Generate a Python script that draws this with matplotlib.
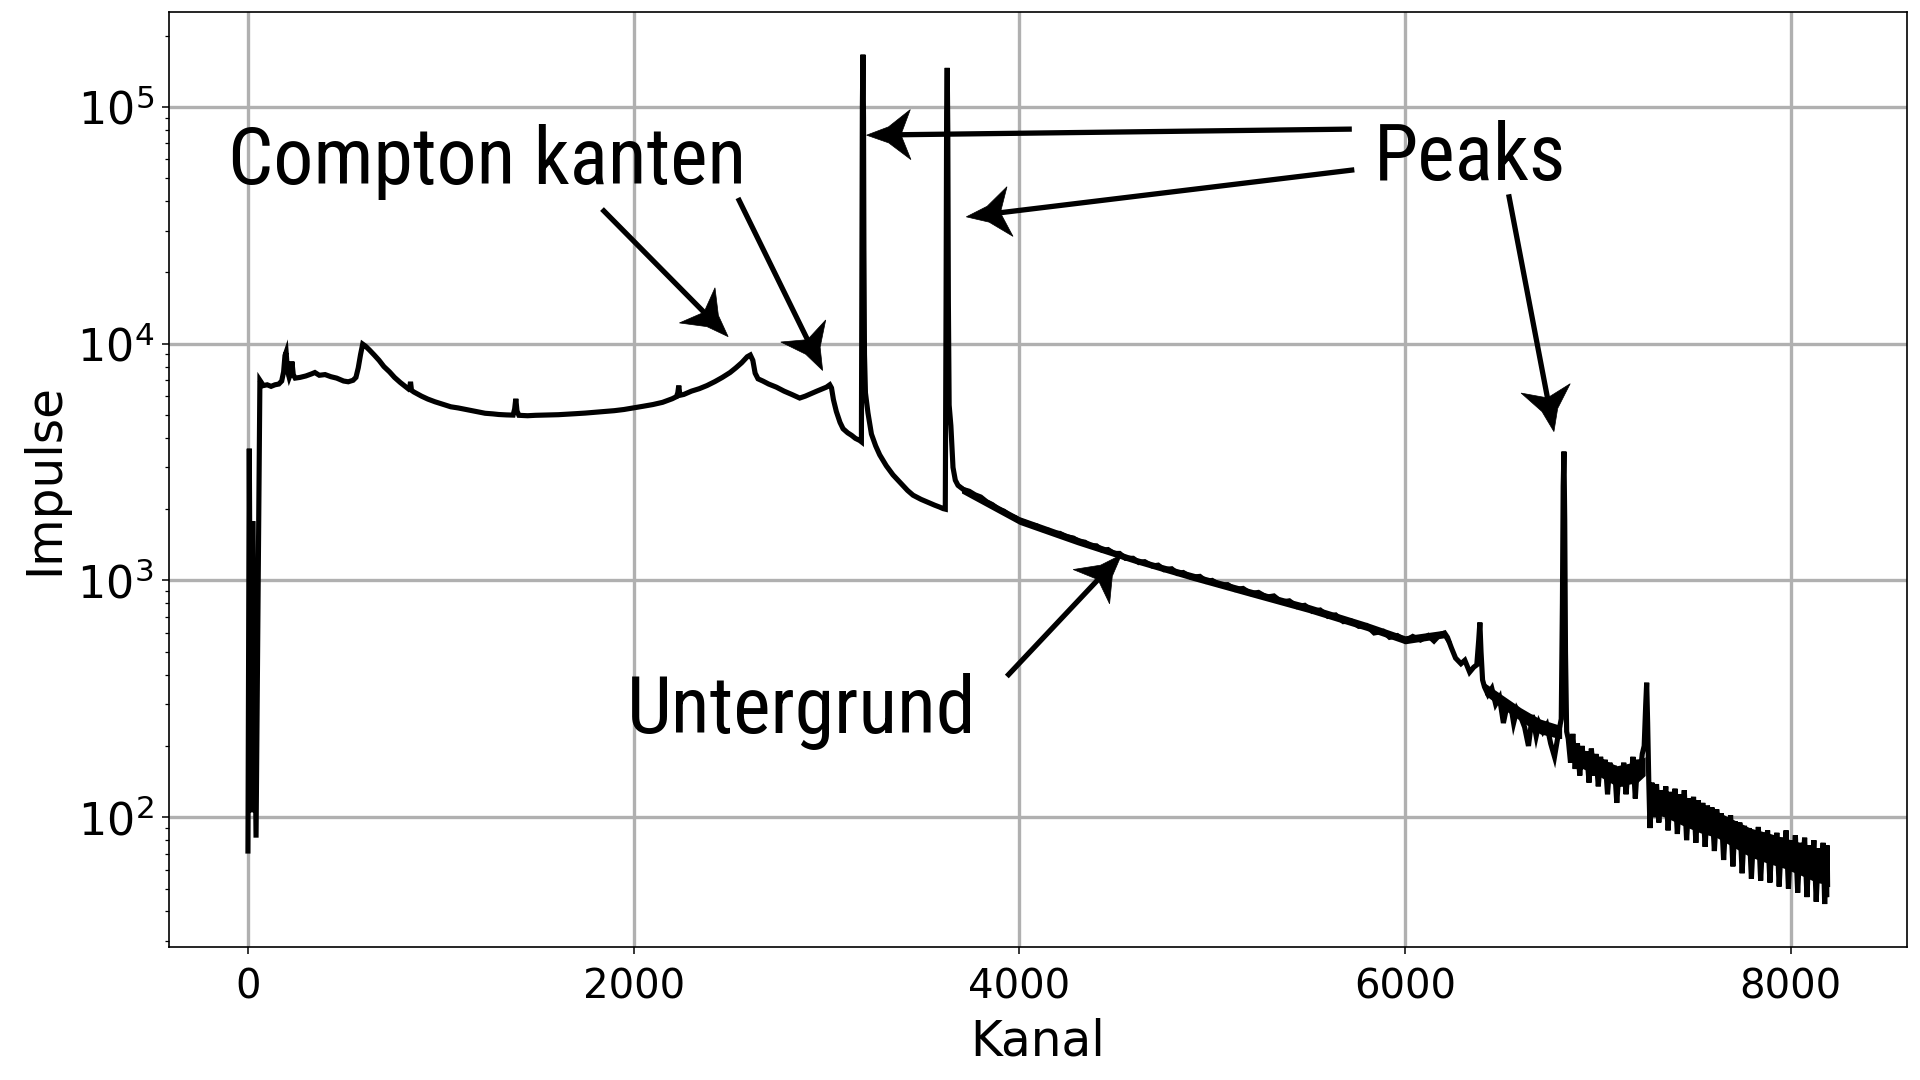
import matplotlib
matplotlib.use("Agg")
import numpy as np
import matplotlib.pyplot as plt
from matplotlib import font_manager as fm
from matplotlib.font_manager import FontProperties
from matplotlib.patches import Polygon

# ---------------- data ----------------
kanal_start = [0, 7, 16, 25, 42, 62, 80, 100, 120, 140, 160, 175, 185, 192, 198, 205, 214, 222, 228,
               235, 245, 270, 300, 330, 347, 370, 400, 430, 460, 496, 520, 545, 560, 572, 584, 595]
impulse_start = [72, 3600, 105, 1780, 82, 7000, 6650, 6700, 6600, 6700, 6750, 6950, 7600, 8900, 9200, 7700, 7200, 7500, 8400,
                 7400, 7150, 7200, 7300, 7450, 7550, 7350, 7400, 7250, 7150, 6950, 6900, 7000, 7200, 7900, 9000, 9950]

kanal_compton = [610, 630, 655, 680, 705, 734, 760, 790, 815, 833, 839, 843, 848, 860, 900, 933, 970, 1000, 1052, 1090,
                 1131, 1180, 1230, 1270, 1300, 1340, 1375, 1383, 1389, 1395, 1405, 1450, 1490, 1528, 1570, 1610, 1650,
                 1700, 1750, 1800, 1850, 1900, 1950, 2004, 2050, 2100, 2150, 2200, 2222, 2229, 2234, 2240, 2260, 2300,
                 2340, 2380, 2421, 2460, 2500, 2530, 2560, 2589, 2605, 2618, 2630, 2645, 2670, 2700, 2740, 2780, 2820,
                 2861, 2890, 2920, 2950, 2980, 3000, 3017, 3026, 3036, 3051, 3070, 3086, 3110, 3130, 3150, 3172, 3181]
impulse_compton = [9750, 9400, 8950, 8500, 8000, 7600, 7200, 6850, 6600, 6430, 6500, 6900, 6350, 6250, 6000, 5830, 5680, 5580, 5410, 5350,
                   5270, 5180, 5080, 5050, 5020, 5000, 4990, 5300, 5850, 5200, 4980, 4960, 4980, 4990, 5000, 5010, 5030,
                   5060, 5090, 5130, 5170, 5210, 5270, 5360, 5440, 5530, 5650, 5850, 5970, 6200, 6650, 6050, 6100, 6300,
                   6450, 6650, 6910, 7200, 7550, 7900, 8300, 8800, 8950, 8500, 7500, 7100, 6950, 6750, 6550, 6300, 6100,
                   5890, 6000, 6150, 6300, 6450, 6550, 6700, 6500, 5800, 5170, 4650, 4370, 4200, 4100, 3980, 3900, 3850]

kanal_peaks = [3184, 3186, 3189, 3192, 3194, 3197, 3202, 3215, 3233, 3255, 3276, 3310, 3345, 3380, 3420, 3449, 3490,
               3530, 3560, 3587, 3605, 3616, 3620, 3623, 3626, 3629, 3632, 3636, 3645, 3656, 3668, 3682, 3710]
impulse_peaks = [25000, 100000, 166000, 90000, 25000, 9000, 6200, 5100, 4150, 3700, 3390, 3050, 2790, 2600, 2400, 2290, 2200,
                 2130, 2080, 2040, 2010, 2000, 15000, 95000, 146000, 80000, 15000, 5500, 4500, 3000, 2650, 2520, 2420]

kanal_abfall = [3740, 3770, 3800, 3830, 3860, 3890, 3920, 3950, 3980, 4002, 4030, 4060, 4090, 4120, 4150, 4180, 4210, 4244,
                4280, 4310, 4340, 4370, 4400, 4430, 4460, 4490, 4520, 4550, 4590, 4620, 4650, 4690, 4720, 4750, 4790, 4820,
                4850, 4890, 4936, 4970, 5000, 5040, 5080, 5120, 5160, 5200, 5240, 5282, 5320, 5360, 5400, 5440, 5480, 5520,
                5560, 5600, 5640, 5680, 5720, 5760, 5800, 5840, 5887, 5920, 5960, 6000, 6040, 6080, 6120, 6150, 6180, 6205,
                6220, 6240, 6262, 6290, 6310, 6335, 6356, 6372, 6382, 6388, 6394, 6402, 6412, 6430, 6450, 6470, 6490, 6510,
                6530, 6550, 6563, 6580, 6600, 6620, 6640, 6660, 6680, 6695, 6715, 6735, 6755, 6775, 6795, 6810, 6816, 6820,
                6824, 6828, 6832, 6838]
impulse_abfall = [2380, 2300, 2250, 2150, 2090, 2000, 1960, 1880, 1840, 1790, 1760, 1720, 1700, 1640, 1630, 1580, 1580, 1530,
                  1510, 1460, 1450, 1400, 1400, 1340, 1350, 1300, 1300, 1240, 1240, 1190, 1200, 1150, 1160, 1110, 1120, 1070,
                  1080, 1030, 1040, 990, 1000, 955, 960, 915, 925, 880, 890, 850, 860, 810, 820, 775, 785, 740,
                  750, 705, 715, 670, 675, 640, 645, 600, 610, 575, 585, 555, 580, 560, 585, 555, 590, 600,
                  575, 520, 470, 445, 460, 410, 430, 440, 560, 664, 500, 380, 355, 330, 350, 300, 320, 250,
                  300, 290, 250, 285, 265, 240, 200, 270, 220, 250, 230, 245, 205, 180, 225, 260, 800,
                  2500, 3500, 1800, 500, 230]

kanal_schwanz = [6846, 6858, 6870, 6882, 6894, 6906, 6918, 6930, 6942, 6954, 6966, 6978, 6990, 7002, 7014, 7026, 7038, 7050,
                 7062, 7074, 7086, 7098, 7110, 7122, 7134, 7146, 7158, 7170, 7182, 7194, 7206, 7218, 7230, 7240, 7248, 7253,
                 7258, 7264, 7270, 7280, 7292, 7304, 7316, 7328, 7340, 7352, 7364, 7376, 7388, 7400, 7412, 7424, 7436, 7448,
                 7460, 7472, 7484, 7496, 7508, 7520, 7532, 7544, 7556, 7568, 7580, 7592, 7604, 7616, 7628, 7640, 7652, 7664,
                 7676, 7688, 7700, 7712, 7724, 7736, 7748, 7760, 7772, 7784, 7796, 7808, 7820, 7832, 7844, 7856, 7868, 7880,
                 7892, 7904, 7916, 7928, 7940, 7952, 7964, 7976, 7988, 8000, 8012, 8024, 8036, 8048, 8060, 8072, 8084, 8096,
                 8108, 8120, 8132, 8144, 8156, 8168, 8176, 8182, 8186, 8189, 8191]
impulse_schwanz = [215, 170, 225, 160, 205, 150, 200, 160, 190, 140, 195, 150, 185, 135, 180, 150, 175, 125,
                   170, 140, 165, 115, 160, 135, 170, 125, 165, 140, 180, 120, 175, 150, 185, 200, 300, 370,
                   250, 140, 90, 140, 100, 138, 95, 130, 105, 135, 88, 128, 100, 132, 85, 125, 98, 130,
                   80, 120, 95, 122, 78, 118, 92, 115, 75, 112, 90, 110, 72, 108, 85, 104, 66, 100,
                   80, 102, 62, 96, 75, 95, 58, 92, 70, 90, 55, 88, 68, 91, 54, 86, 66, 88,
                   53, 84, 64, 86, 51, 82, 62, 88, 50, 80, 60, 84, 48, 78, 58, 82, 46, 76,
                   56, 80, 44, 74, 54, 78, 43, 72, 46, 76, 52]

# dense noise band (core of the noisy trace)
band_m_kanal = [3700, 4000, 4300, 4600, 4900, 5200, 5500, 5800, 6000, 6200, 6240]
band_m_low = [2340, 1725, 1415, 1180, 1000, 855, 732, 615, 540, 572, 508]
band_m_high = [2520, 1860, 1525, 1255, 1075, 920, 792, 665, 584, 616, 552]
band_a_kanal = [6412, 6500, 6600, 6700, 6800, 6812]
band_a_low = [330, 290, 255, 225, 215, 215]
band_a_high = [370, 330, 290, 260, 245, 245]
band_b_kanal = [6846, 6925, 7000, 7098, 7205, 7245]
band_b_low = [185, 160, 150, 135, 140, 150]
band_b_high = [215, 190, 180, 165, 172, 180]
band_c_kanal = [7266, 7350, 7444, 7530, 7617, 7700, 7790, 7880, 7963, 8050, 8136, 8191]
band_c_low = [105, 100, 92, 86, 82, 75, 68, 64, 61, 57, 53, 52]
band_c_high = [135, 128, 122, 112, 106, 98, 90, 86, 82, 78, 74, 72]

x_ticks = [0, 2000, 4000, 6000, 8000]
x_label = "Kanal"
y_label = "Impulse"

kanal = kanal_start + kanal_compton + kanal_peaks + kanal_abfall + kanal_schwanz
impulse = impulse_start + impulse_compton + impulse_peaks + impulse_abfall + impulse_schwanz

# ---------------- annotation font (condensed if available) ----------------
def pick_condensed():
    prefs = ["Open Sans Condensed", "Noto Sans Condensed", "Roboto Condensed",
             "Liberation Sans Narrow", "DejaVu Sans Condensed"]
    fl = fm.fontManager.ttflist
    def ok(f):
        return f.style == "normal" and str(f.weight) in ("400", "normal", "regular", "book")
    for p in prefs:
        for f in fl:
            if f.name == p and ok(f):
                return FontProperties(fname=f.fname)
    for f in fl:
        if ok(f) and (f.stretch in ("condensed", "semi-condensed") or "Condensed" in f.name or "Narrow" in f.name):
            return FontProperties(fname=f.fname)
    return FontProperties(family="Liberation Sans")

ann_fp = pick_condensed()

# ---------------- figure ----------------
fig = plt.figure(figsize=(19.2, 10.8), dpi=100)
ax = fig.add_axes([0.088, 0.1236, 0.905, 0.8651])

ax.plot(kanal, impulse, color="black", lw=3.7, zorder=3, solid_joinstyle="miter")
for bk, bl, bh in [(band_m_kanal, band_m_low, band_m_high),
                   (band_a_kanal, band_a_low, band_a_high),
                   (band_b_kanal, band_b_low, band_b_high),
                   (band_c_kanal, band_c_low, band_c_high)]:
    ax.fill_between(bk, bl, bh, color="black", lw=0, zorder=3)
ax.set_yscale("log")
ax.set_xticks(x_ticks)
ax.grid(True, which="major", color="#b0b0b0", lw=2.4)
ax.set_axisbelow(True)
for s in ax.spines.values():
    s.set_linewidth(1.2)
ax.tick_params(axis="x", which="major", labelsize=29, length=5, width=1.1, pad=10)
ax.tick_params(axis="y", which="major", labelsize=32, length=5, width=1.1, pad=6)
ax.tick_params(axis="y", which="minor", length=3, width=0.9)
ax.set_xlabel(x_label, fontsize=35, labelpad=7)
ax.set_ylabel(y_label, fontsize=35, labelpad=6)

# freeze limits so annotation geometry can be computed in pixels
ax.set_xlim(ax.get_xlim())
ax.set_ylim(ax.get_ylim())

def ann_text(x, y, s):
    fp = ann_fp.copy()
    fp.set_size(57.5)
    ax.text(x, y, s, fontproperties=fp, ha="left", va="baseline", zorder=5)

def arrow(tail, tip, L=44.0, W=50.0):
    p0 = ax.transData.transform(tail)
    p1 = ax.transData.transform(tip)
    d = p1 - p0
    u = d / np.hypot(*d)
    n = np.array([-u[1], u[0]])
    head = [p1,
            p1 - 0.5 * L * u + 0.16 * W * n,
            p1 - L * u + 0.5 * W * n,
            p1 - 0.78 * L * u,
            p1 - L * u - 0.5 * W * n,
            p1 - 0.5 * L * u - 0.16 * W * n]
    inv = ax.transData.inverted()
    head_d = inv.transform(np.array(head))
    shaft_end = inv.transform(p1 - 0.7 * L * u)
    ax.plot([tail[0], shaft_end[0]], [tail[1], shaft_end[1]], color="black",
            lw=3.8, solid_capstyle="butt", zorder=6)
    ax.add_patch(Polygon(head_d, closed=True, facecolor="black", edgecolor="black",
                         lw=0.5, zorder=6))

ann_text(-102, 47000, "Compton kanten")
arrow((1836, 37000), (2490, 10700))
arrow((2541, 41200), (2980, 7700))

ann_text(5839, 49300, "Peaks")
arrow((5724, 80500), (3208, 75900))
arrow((5737, 54200), (3725, 34300))
arrow((6537, 42700), (6772, 4250))

ann_text(1963, 226, "Untergrund")
arrow((3935, 393), (4530, 1285))

fig.savefig("out.png", dpi=100, facecolor="white")
